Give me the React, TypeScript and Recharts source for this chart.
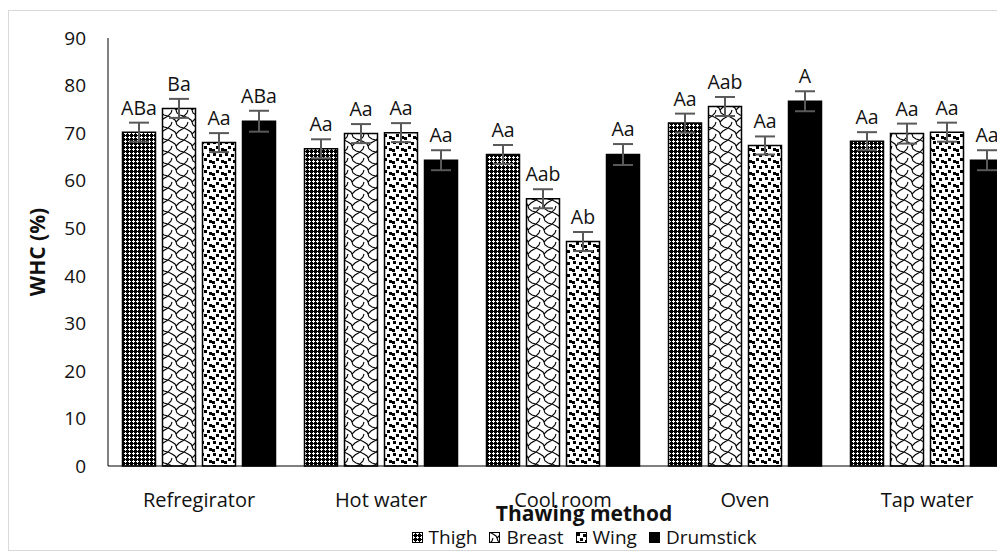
import { BarChart, Bar, XAxis, YAxis, ErrorBar, LabelList, Legend } from 'recharts';

const categories = ['Refregirator', 'Hot water', 'Cool room', 'Oven', 'Tap water'];

const thigh = [70.2, 66.7, 65.5, 72.1, 68.3];
const breast = [75.2, 69.9, 56.2, 75.6, 69.9];
const wing = [68.0, 70.1, 47.2, 67.4, 70.2];
const drumstick = [72.5, 64.3, 65.5, 76.7, 64.3];

const thighErr = [2.0, 2.0, 2.0, 2.0, 1.9];
const breastErr = [2.0, 2.0, 2.0, 2.0, 2.1];
const wingErr = [2.0, 2.0, 2.0, 1.9, 2.0];
const drumstickErr = [2.2, 2.1, 2.2, 2.1, 2.1];

const thighLetters = ['ABa', 'Aa', 'Aa', 'Aa', 'Aa'];
const breastLetters = ['Ba', 'Aa', 'Aab', 'Aab', 'Aa'];
const wingLetters = ['Aa', 'Aa', 'Ab', 'Aa', 'Aa'];
const drumstickLetters = ['ABa', 'Aa', 'Aa', 'A', 'Aa'];

const yTicks = [0, 10, 20, 30, 40, 50, 60, 70, 80, 90];

const data = categories.map((name, i) => ({
  name,
  thigh: thigh[i],
  thighErr: thighErr[i],
  breast: breast[i],
  breastErr: breastErr[i],
  wing: wing[i],
  wingErr: wingErr[i],
  drumstick: drumstick[i],
  drumstickErr: drumstickErr[i],
}));

const series = [
  { key: 'thigh', name: 'Thigh', fill: 'url(#pat-thigh)', values: thigh, errs: thighErr, letters: thighLetters },
  { key: 'breast', name: 'Breast', fill: 'url(#pat-breast)', values: breast, errs: breastErr, letters: breastLetters },
  { key: 'wing', name: 'Wing', fill: 'url(#pat-wing)', values: wing, errs: wingErr, letters: wingLetters },
  { key: 'drumstick', name: 'Drumstick', fill: '#000', values: drumstick, errs: drumstickErr, letters: drumstickLetters },
];

const FONT = '"Open Sans", "Noto Sans", sans-serif';
const CHART_W = 1152;
const CHART_H = 545;

// letters sit just above the error bar cap
const makeLabel = (values: number[], errs: number[], letters: string[]) => (props: any) => {
  const { x, y, width, height, index } = props;
  const ppu = Number(height) / values[index];
  const top = Number(y) - errs[index] * ppu;
  return (
    <text x={Number(x) + Number(width) / 2} y={top - 8} textAnchor="middle" fontSize={19.5} fill="#111" fontFamily={FONT}>
      {letters[index]}
    </text>
  );
};

function LegendBlock() {
  return (
    <div style={{ textAlign: 'center', fontFamily: FONT, color: '#111' }}>
      <div style={{ fontWeight: 700, fontSize: 21, lineHeight: '20px' }}>Thawing method</div>
      <div style={{ display: 'flex', justifyContent: 'center', alignItems: 'center', gap: 12, fontSize: 19, lineHeight: '20px', marginTop: 4 }}>
        {series.map(s => (
          <span key={s.key} style={{ display: 'flex', alignItems: 'center' }}>
            <svg width={11} height={11} style={{ display: 'block' }}>
              <rect x={0.5} y={0.5} width={10} height={10} fill={s.fill} stroke="#000" />
            </svg>
            <span style={{ marginLeft: 6 }}>{s.name}</span>
          </span>
        ))}
      </div>
    </div>
  );
}

export default function App() {
  return (
    <div style={{ width: 997, height: 545, overflow: 'hidden', position: 'relative' }}>
      <div
        style={{
          position: 'absolute',
          left: 0,
          top: 2,
          width: CHART_W,
          height: 541,
          border: '1px solid #d9d9d9',
          boxSizing: 'border-box',
        }}
      />
      <div style={{ position: 'absolute', left: 0, top: 0 }}>
        <BarChart
          width={CHART_W}
          height={CHART_H}
          data={data}
          margin={{ top: 30, right: 142, left: 0, bottom: 0 }}
          barCategoryGap={14.5}
          barGap={7}
          style={{ fontFamily: FONT }}
        >
          <defs>
            <pattern id="pat-thigh" patternUnits="userSpaceOnUse" width={4} height={4}>
              <rect width={4} height={4} fill="#000" />
              <rect x={0} y={1} width={3} height={1} fill="#fff" />
              <rect x={1} y={0} width={1} height={3} fill="#fff" />
            </pattern>
            <pattern id="pat-breast" patternUnits="userSpaceOnUse" width={16} height={12}>
              <rect width={16} height={12} fill="#fff" />
              <path
                d="M0,0 L4,2 L7,4 L8,6 L9,9 L12,11 L16,12 M8,6 L11,3 L16,0 M0,12 L3,9 L4,6"
                fill="none"
                stroke="#000"
                strokeWidth={1.1}
              />
            </pattern>
            <pattern id="pat-wing" patternUnits="userSpaceOnUse" width={12} height={12} shapeRendering="crispEdges">
              <rect width={12} height={12} fill="#fff" />
              <rect x={1} y={1} width={3} height={3} fill="#000" />
              <rect x={7} y={2} width={3} height={3} fill="#000" />
              <rect x={4} y={6} width={3} height={3} fill="#000" />
              <rect x={9} y={8} width={3} height={3} fill="#000" />
              <rect x={0} y={9} width={3} height={3} fill="#000" />
            </pattern>
          </defs>
          <XAxis
            dataKey="name"
            height={87}
            axisLine={{ stroke: '#000', strokeWidth: 1 }}
            tickLine={false}
            tickSize={0}
            tickMargin={27}
            tick={{ fontSize: 20, fill: '#111', fontFamily: FONT }}
            interval={0}
          />
          <YAxis
            width={100}
            domain={[0, 90]}
            ticks={yTicks}
            axisLine={{ stroke: '#000', strokeWidth: 1 }}
            tickLine={false}
            tickSize={0}
            tickMargin={22}
            tick={{ fontSize: 19, fill: '#111', fontFamily: FONT }}
            label={{
              content: (props: any) => {
                const vb = props.viewBox || {};
                const cx = (vb.x || 0) + 29;
                const cy = (vb.y || 0) + (vb.height || 0) / 2;
                return (
                  <text
                    x={cx}
                    y={cy}
                    transform={`rotate(-90, ${cx}, ${cy})`}
                    textAnchor="middle"
                    dominantBaseline="central"
                    fontSize={21}
                    fontWeight={700}
                    fill="#111"
                    fontFamily={FONT}
                  >
                    WHC (%)
                  </text>
                );
              },
            }}
          />
          <Legend
            verticalAlign="middle"
            align="center"
            layout="horizontal"
            wrapperStyle={{ top: 495, left: 0, width: CHART_W }}
            content={() => <LegendBlock />}
          />
          {series.map(s => (
            <Bar
              key={s.key}
              dataKey={s.key}
              name={s.name}
              fill={s.fill}
              stroke="#000"
              strokeWidth={1.5}
              isAnimationActive={false}
            >
              <ErrorBar dataKey={`${s.key}Err`} width={10} stroke="#595959" strokeWidth={2} isAnimationActive={false} />
              <LabelList dataKey={s.key} content={makeLabel(s.values, s.errs, s.letters)} />
            </Bar>
          ))}
        </BarChart>
      </div>
    </div>
  );
}
